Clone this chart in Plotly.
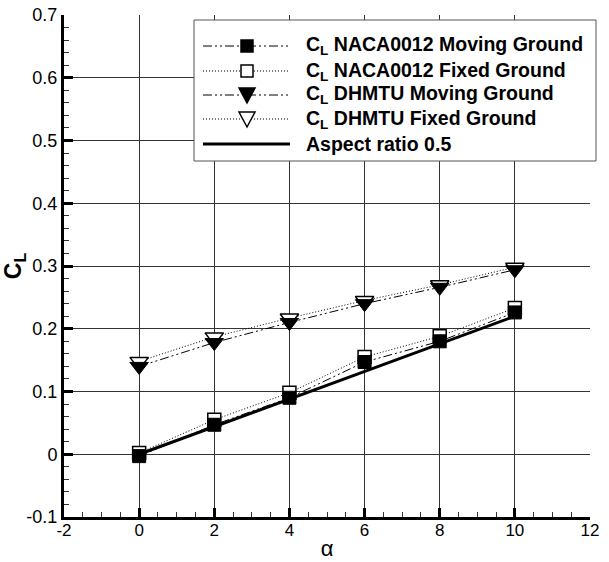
import plotly.graph_objects as go

# Angle of attack (deg)
alpha = [0, 2, 4, 6, 8, 10]

# Lift coefficient series
cl_naca_moving = [-0.003, 0.047, 0.090, 0.147, 0.180, 0.226]
cl_naca_fixed = [0.002, 0.055, 0.098, 0.155, 0.188, 0.233]
cl_dhmtu_moving = [0.140, 0.178, 0.210, 0.240, 0.266, 0.294]
cl_dhmtu_fixed = [0.148, 0.187, 0.217, 0.245, 0.270, 0.298]
cl_aspect_05 = [0.0, 0.044, 0.088, 0.132, 0.176, 0.220]

# Axis ticks
x_ticks = [-2, 0, 2, 4, 6, 8, 10, 12]
x_tick_text = ["-2", "0", "2", "4", "6", "8", "10", "12"]
y_ticks = [-0.1, 0, 0.1, 0.2, 0.3, 0.4, 0.5, 0.6, 0.7]
y_tick_text = ["-0.1", "0", "0.1", "0.2", "0.3", "0.4", "0.5", "0.6", "0.7"]

legend_labels = [
    "C<sub>L</sub> NACA0012 Moving Ground",
    "C<sub>L</sub> NACA0012 Fixed Ground",
    "C<sub>L</sub> DHMTU Moving Ground",
    "C<sub>L</sub> DHMTU Fixed Ground",
    "Aspect ratio 0.5",
]

FONT = "Liberation Sans, Arial, sans-serif"
DASHDOT = "9px,3px,2px,3px,2px,3px"
DOT = "1px,2px"

W, H = 609, 562
ML, MR, MT, MB = 64, 19, 15, 45
PW, PH = W - ML - MR, H - MT - MB


def px_to_paper(px, py):
    return (px - ML) / PW, (H - MB - py) / PH


fig = go.Figure()

fig.add_trace(go.Scatter(
    x=alpha, y=cl_naca_fixed, mode="lines+markers",
    line=dict(color="black", width=1, dash=DOT),
    marker=dict(symbol="square", size=13, color="white", line=dict(color="black", width=1.5)),
    showlegend=False))
fig.add_trace(go.Scatter(
    x=alpha, y=cl_dhmtu_fixed, mode="lines+markers",
    line=dict(color="black", width=1, dash=DOT),
    marker=dict(symbol="triangle-down", size=16, color="white", line=dict(color="black", width=1.5)),
    showlegend=False))
fig.add_trace(go.Scatter(
    x=alpha, y=cl_aspect_05, mode="lines",
    line=dict(color="black", width=3),
    showlegend=False))
fig.add_trace(go.Scatter(
    x=alpha, y=cl_naca_moving, mode="lines+markers",
    line=dict(color="black", width=1, dash=DASHDOT),
    marker=dict(symbol="square", size=13, color="black", line=dict(color="black", width=1)),
    showlegend=False))
fig.add_trace(go.Scatter(
    x=alpha, y=cl_dhmtu_moving, mode="lines+markers",
    line=dict(color="black", width=1, dash=DASHDOT),
    marker=dict(symbol="triangle-down", size=16, color="black", line=dict(color="black", width=1)),
    showlegend=False))

# Boxed legend with long line samples
shapes = []
annotations = []
x0, y0 = px_to_paper(194, 20)
x1, y1 = px_to_paper(596, 161)
shapes.append(dict(type="rect", xref="paper", yref="paper", x0=x0, y0=y1, x1=x1, y1=y0,
                   line=dict(color="#555555", width=1), fillcolor="white", layer="above"))

row_y = [46, 71, 95, 119, 144]
styles = [
    (DASHDOT, 1, "square", "black"),
    (DOT, 1, "square", "white"),
    (DASHDOT, 1, "triangle", "black"),
    (DOT, 1, "triangle", "white"),
    ("solid", 3, None, None),
]
for label, ry, (dash, lw, sym, fill) in zip(legend_labels, row_y, styles):
    lx0, ly = px_to_paper(203, ry)
    lx1, _ = px_to_paper(290, ry)
    shapes.append(dict(type="line", xref="paper", yref="paper", x0=lx0, x1=lx1, y0=ly, y1=ly,
                       line=dict(color="black", width=lw, dash=dash), layer="above"))
    if sym == "square":
        a, b = px_to_paper(241, ry - 6)
        c, d = px_to_paper(253, ry + 6)
        shapes.append(dict(type="rect", xref="paper", yref="paper", x0=a, y0=d, x1=c, y1=b,
                           line=dict(color="black", width=1.5), fillcolor=fill, layer="above"))
    elif sym == "triangle":
        pa = px_to_paper(239, ry - 7)
        pb = px_to_paper(255, ry - 7)
        pc = px_to_paper(247, ry + 8)
        path = f"M{pa[0]},{pa[1]} L{pb[0]},{pb[1]} L{pc[0]},{pc[1]} Z"
        shapes.append(dict(type="path", xref="paper", yref="paper", path=path,
                           line=dict(color="black", width=1.5), fillcolor=fill, layer="above"))
    tx, ty = px_to_paper(304, ry)
    annotations.append(dict(text=f"<b>{label}</b>", xref="paper", yref="paper", x=tx, y=ty,
                            xanchor="left", yanchor="middle", showarrow=False,
                            font=dict(family=FONT, size=19.5, color="black")))

fig.update_layout(
    width=W, height=H,
    margin=dict(l=ML, r=MR, t=MT, b=MB),
    paper_bgcolor="white", plot_bgcolor="white",
    font=dict(family=FONT, size=17, color="black"),
    shapes=shapes, annotations=annotations,
    showlegend=False,
)
fig.update_xaxes(
    range=[-2, 12], tickmode="array", tickvals=x_ticks, ticktext=x_tick_text,
    automargin=False,
    showline=True, linecolor="black", linewidth=3,
    showgrid=True, gridcolor="#333333", gridwidth=1, zeroline=False,
    ticks="inside", ticklen=9, tickwidth=3, tickcolor="black",
    minor=dict(ticks="inside", ticklen=5, tickwidth=1, dtick=0.5, tick0=0, tickcolor="#333333", showgrid=False),
    tickfont=dict(family=FONT, size=17),
    ticklabelstandoff=-4,
    title=dict(text="α", font=dict(family=FONT, size=22), standoff=2),
)
fig.update_yaxes(
    range=[-0.1, 0.7], tickmode="array", tickvals=y_ticks, ticktext=y_tick_text,
    automargin=False,
    showline=True, linecolor="black", linewidth=3,
    showgrid=True, gridcolor="#333333", gridwidth=1, zeroline=False,
    ticks="inside", ticklen=9, tickwidth=3, tickcolor="black",
    minor=dict(ticks="inside", ticklen=5, tickwidth=1, dtick=0.02, tick0=0, tickcolor="#333333", showgrid=False),
    tickfont=dict(family=FONT, size=18),
    title=dict(text="<b>C<sub>L</sub></b>", font=dict(family=FONT, size=23), standoff=0),
)

fig.write_html("out.html")
